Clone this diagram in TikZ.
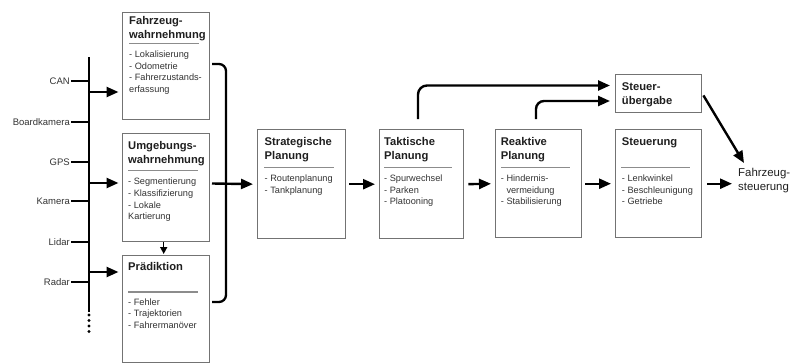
\documentclass[tikz,border=0pt]{standalone}
\usepackage{fontspec}
\setmainfont{Liberation Sans}
\usetikzlibrary{arrows.meta}
\definecolor{boxgray}{gray}{0.45}
\definecolor{sepgray}{gray}{0.55}
\definecolor{txtdark}{gray}{0.12}
\definecolor{itmdark}{gray}{0.2}

% one text line per node, stacked from a first baseline
\newcommand\txtlines[6]{%
  \foreach \t [count=\i from 0] in {#6}
    \node[#1] (#2\i) at (#3,{#4+\i*#5}) {\t};}

\begin{document}
\begin{tikzpicture}[x=1pt,y=-1pt,
  blk/.style={draw=boxgray,line width=1.4pt,rectangle,inner sep=0pt,anchor=north west,fill=white},
  ttl/.style={anchor=base west,inner sep=0pt,text=txtdark,font=\fontsize{11.2}{13.5}\selectfont\bfseries},
  itm/.style={anchor=base west,inner sep=0pt,text=itmdark,font=\fontsize{9.2}{11.6}\selectfont},
  sens/.style={anchor=east,inner sep=1pt,text=itmdark,font=\fontsize{9.5}{11}\selectfont},
  sepline/.style={draw=sepgray,line width=1.2pt},
  busline/.style={line width=2.3pt},
  conn/.style={line width=2.4pt,-{Triangle[length=12pt,width=10pt]}},
  small/.style={line width=1.5pt,-{Triangle[length=7pt,width=7pt]}}]

\useasboundingbox (0,0) rectangle (795,364);

% ---------- sensor bus ----------
\coordinate (bt) at (89,57);
\coordinate (bb) at (89,312);
\draw[busline] (bt) -- (bb);
\foreach \d [count=\k] in {315,320.5,326,331.5}
  \fill (89,\d) circle[radius=1.6pt];

\node[sens] (can)   at (71,81)  {CAN};
\node[sens] (board) at (71,122) {Boardkamera};
\node[sens] (gps)   at (71,162) {GPS};
\node[sens] (kam)   at (71,201) {Kamera};
\node[sens] (lidar) at (71,242) {Lidar};
\node[sens] (radar) at (71,282) {Radar};
\foreach \s in {can,board,gps,kam,lidar,radar}
  \draw[busline] (\s.east) -- (\s.east -| bt);

% ---------- perception boxes ----------
\node[blk,minimum width=87pt,minimum height=107pt] (fw) at (122,12) {};
\node[blk,minimum width=87pt,minimum height=108pt] (uw) at (122,133) {};
\node[blk,minimum width=87pt,minimum height=107pt] (pr) at (122,255) {};

\txtlines{ttl}{fwt}{129}{24.5}{13.5}{Fahrzeug-,wahrnehmung}
\draw[sepline] (129,43.3) -- (199,43.3);
\txtlines{itm}{fwl}{129}{57.5}{11.6}{- Lokalisierung,- Odometrie,- Fahrerzustands-,erfassung}

\txtlines{ttl}{uwt}{128}{149.7}{14}{Umgebungs-,wahrnehmung}
\draw[sepline] (128,170.7) -- (198,170.7);
\txtlines{itm}{uwl}{128}{184.8}{11.7}{- Segmentierung,- Klassifizierung,- Lokale,Kartierung}

\txtlines{ttl}{prt}{128}{270}{13.5}{Prädiktion}
\draw[sepline] (128,292) -- (198,292);
\txtlines{itm}{prl}{128}{305.2}{11.7}{- Fehler,- Trajektorien,- Fahrermanöver}

% ---------- planning and control boxes ----------
\node[blk,minimum width=88pt,minimum height=109pt] (sp) at (257,129) {};
\node[blk,minimum width=84pt,minimum height=109pt] (tp) at (379,129) {};
\node[blk,minimum width=86pt,minimum height=108pt] (rp) at (495,129) {};
\node[blk,minimum width=86pt,minimum height=108pt] (st) at (615,129) {};
\node[blk,minimum width=86pt,minimum height=38pt]  (su) at (615,74) {};

\txtlines{ttl}{spt}{264.5}{145.5}{13.5}{Strategische,Planung}
\draw[sepline] (264,167.7) -- (334,167.7);
\txtlines{itm}{spl}{264.5}{181.3}{11.7}{- Routenplanung,- Tankplanung}

\txtlines{ttl}{tpt}{384}{145.5}{13.5}{Taktische,Planung}
\draw[sepline] (384,167.7) -- (452,167.7);
\txtlines{itm}{tpl}{384}{181.3}{11.7}{- Spurwechsel,- Parken,- Platooning}

\txtlines{ttl}{rpt}{500.7}{145.5}{13.5}{Reaktive,Planung}
\draw[sepline] (501,167.7) -- (570,167.7);
\txtlines{itm}{rpl}{500.7}{181.3}{11.7}{- Hindernis-,\phantom{- }vermeidung,- Stabilisierung}

\txtlines{ttl}{stt}{621.7}{145.5}{13.5}{Steuerung}
\draw[sepline] (621,167.7) -- (690,167.7);
\txtlines{itm}{stl}{621.7}{181.3}{11.7}{- Lenkwinkel,- Beschleunigung,- Getriebe}

\txtlines{ttl}{sut}{621.7}{90}{14}{Steuer-,übergabe}

% output
\node[anchor=west,inner sep=0pt,align=left,text=txtdark,
      font=\fontsize{11.4}{14}\selectfont] (fs) at (738,180.5) {Fahrzeug-\\steuerung};

% ---------- connectors ----------
\coordinate (b1) at (89,92);
\coordinate (b2) at (89,183);
\coordinate (b3) at (89,272);
\draw[conn,shorten >=3.5pt] (b1) -- (b1 -| fw.west);
\draw[conn,shorten >=3.5pt] (b2) -- (b2 -| uw.west);
\draw[conn,shorten >=3.5pt] (b3) -- (b3 -| pr.west);

\draw[small,shorten >=1pt] ([xshift=-2.5pt]uw.south) -- ([xshift=-2.5pt]pr.north);

% bracket collecting the three perception boxes
\draw[busline,rounded corners=7pt] (212,64) -- (226,64) -- (226,302) -- (212,302);
\coordinate (brk) at (212,183.5);
\draw[conn,shorten >=4pt] (brk) -- (sp.west);

\draw[conn,shorten <=3pt,shorten >=4pt] (sp.east) -- (tp.west);
\draw[conn,shorten <=4pt,shorten >=4pt] (tp.east) -- (rp.west);
\draw[conn,shorten <=3pt,shorten >=4pt] (rp.east) -- (st.west);
\draw[conn,shorten <=5pt,shorten >=6pt] (st.east) -- (fs.west |- st.east);

% hand-over requests
\coordinate (tup) at (418,119);
\coordinate (rup) at (536,119);
\draw[conn,rounded corners=9pt,shorten >=5pt] (tup) -- (418,85.5) -- (su.west |- 0,85.5);
\draw[conn,rounded corners=8pt,shorten >=5pt] (rup) -- (536,101) -- (su.west |- 0,101);

\coordinate (fsin) at (744,163);
\draw[conn,shorten <=2pt] (su.east) -- (fsin);
\end{tikzpicture}
\end{document}
